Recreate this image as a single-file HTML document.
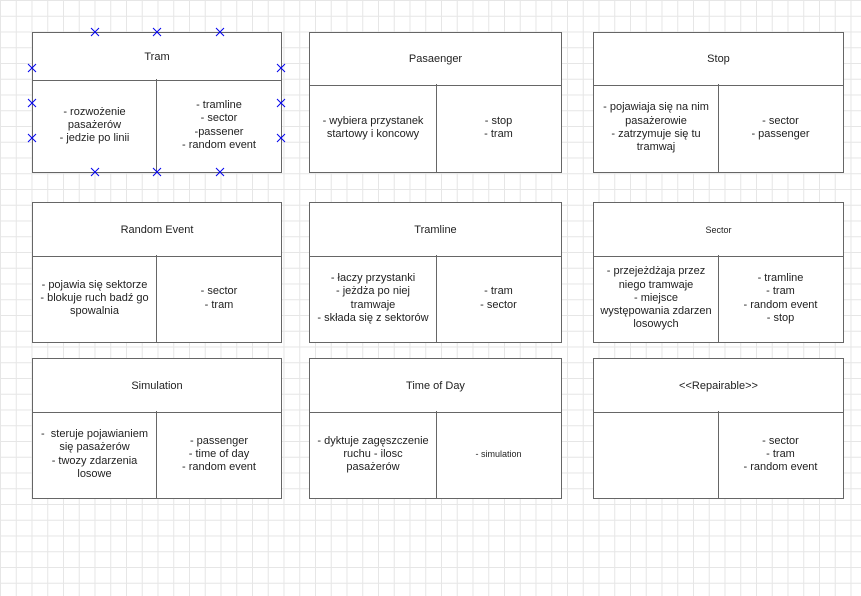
<!DOCTYPE html>
<html><head><meta charset="utf-8"><style>
body{margin:0;width:861px;height:596px;overflow:hidden;background:#fff;
background-image:linear-gradient(#e6e6e6 1px,transparent 1px),linear-gradient(90deg,#e6e6e6 1px,transparent 1px);
background-size:15.75px 15.75px;background-position:0 0;font-family:"Liberation Sans",sans-serif;font-size:11px;color:#222}
.b{position:absolute;background:#fff;border:1px solid #666;box-sizing:border-box}
.h{position:absolute;left:0;right:0;top:0;border-bottom:1px solid #666;display:flex;align-items:center;justify-content:center;text-align:center}
.c{position:absolute;bottom:0;display:flex;align-items:center;justify-content:center;text-align:center;line-height:13.3px;box-sizing:border-box;padding:0;white-space:nowrap}
.l{left:0;border-right:1px solid #666}
.r{right:0}
</style></head><body>

<div class="b" style="left:32px;top:32px;width:250px;height:141px">
<div class="h" style="height:47px">Tram</div>
<div class="c l" style="width:124px;height:93px">- rozwożenie<br>pasażerów<br>- jedzie po linii</div>
<div class="c r" style="width:124px;height:93px">- tramline<br>- sector<br>-passener<br>- random event</div></div>

<div class="b" style="left:309px;top:32px;width:253px;height:141px">
<div class="h" style="height:52px">Pasaenger</div>
<div class="c l" style="width:127px;height:88px">- wybiera przystanek<br>startowy i koncowy</div>
<div class="c r" style="width:125px;height:88px">- stop<br>- tram</div></div>

<div class="b" style="left:593px;top:32px;width:251px;height:141px">
<div class="h" style="height:52px">Stop</div>
<div class="c l" style="width:125px;height:88px">- pojawiaja się na nim<br>pasażerowie<br>- zatrzymuje się tu<br>tramwaj</div>
<div class="c r" style="width:125px;height:88px">- sector<br>- passenger</div></div>

<div class="b" style="left:32px;top:202px;width:250px;height:141px">
<div class="h" style="height:53px">Random Event</div>
<div class="c l" style="width:124px;height:87px">- pojawia się sektorze<br>- blokuje ruch badź go<br>spowalnia</div>
<div class="c r" style="width:124px;height:87px">- sector<br>- tram</div></div>

<div class="b" style="left:309px;top:202px;width:253px;height:141px">
<div class="h" style="height:53px">Tramline</div>
<div class="c l" style="width:127px;height:87px">- łaczy przystanki<br>- jeżdża po niej<br>tramwaje<br>- składa się z sektorów</div>
<div class="c r" style="width:125px;height:87px">- tram<br>- sector</div></div>

<div class="b" style="left:593px;top:202px;width:251px;height:141px">
<div class="h" style="height:53px;font-size:9px">Sector</div>
<div class="c l" style="width:125px;height:87px">- przejeżdżaja przez<br>niego tramwaje<br>- miejsce<br>występowania zdarzen<br>losowych</div>
<div class="c r" style="width:125px;height:87px">- tramline<br>- tram<br>- random event<br>- stop</div></div>

<div class="b" style="left:32px;top:358px;width:250px;height:141px">
<div class="h" style="height:53px">Simulation</div>
<div class="c l" style="width:124px;height:87px">- &nbsp;steruje pojawianiem<br>się pasażerów<br>- twozy zdarzenia<br>losowe</div>
<div class="c r" style="width:124px;height:87px">- passenger<br>- time of day<br>- random event</div></div>

<div class="b" style="left:309px;top:358px;width:253px;height:141px">
<div class="h" style="height:53px">Time of Day</div>
<div class="c l" style="width:127px;height:87px">- dyktuje zagęszczenie<br>ruchu - ilosc<br>pasażerów</div>
<div class="c r" style="width:125px;height:87px;font-size:9px">- simulation</div></div>

<div class="b" style="left:593px;top:358px;width:251px;height:141px">
<div class="h" style="height:53px">&lt;&lt;Repairable&gt;&gt;</div>
<div class="c l" style="width:125px;height:87px"></div>
<div class="c r" style="width:125px;height:87px">- sector<br>- tram<br>- random event</div></div>

<svg style="position:absolute;left:0;top:0" width="861" height="596">
<g stroke="#0000ee" stroke-width="1">
<path d="M91 28l8 8M99 28l-8 8 M153 28l8 8M161 28l-8 8 M216 28l8 8M224 28l-8 8
M28 64l8 8M36 64l-8 8 M277 64l8 8M285 64l-8 8
M28 99l8 8M36 99l-8 8 M277 99l8 8M285 99l-8 8
M28 134l8 8M36 134l-8 8 M277 134l8 8M285 134l-8 8
M91 168l8 8M99 168l-8 8 M153 168l8 8M161 168l-8 8 M216 168l8 8M224 168l-8 8"/>
</g></svg>
</body></html>
